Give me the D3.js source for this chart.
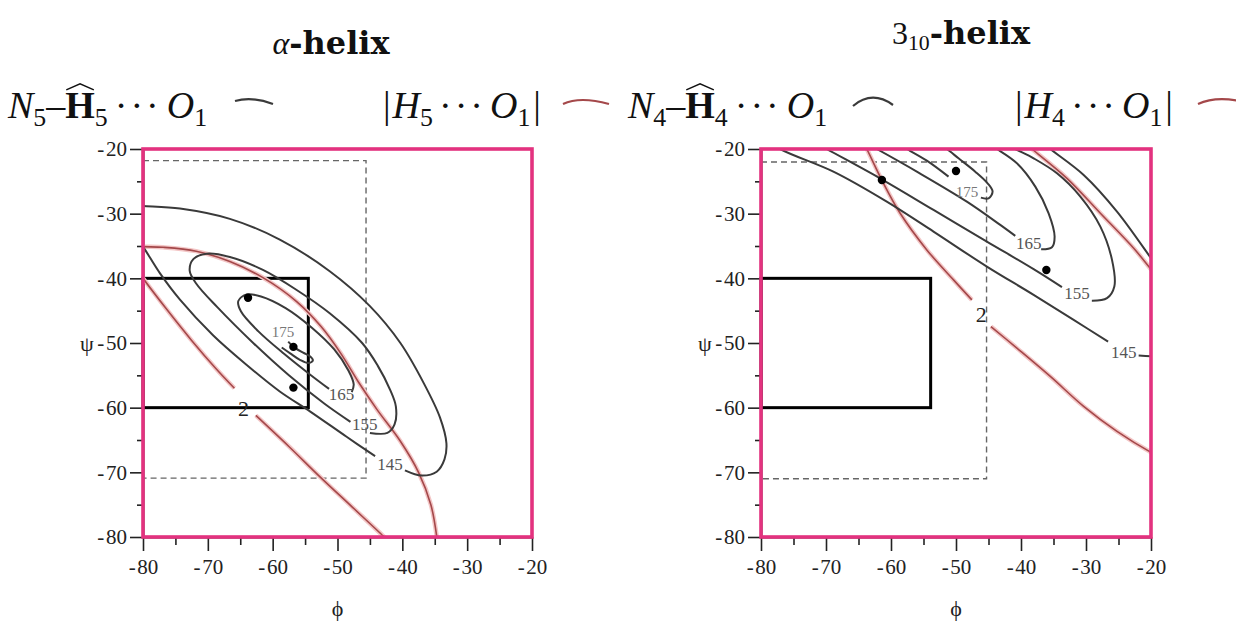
<!DOCTYPE html>
<html lang="en">
<head>
<meta charset="UTF-8" />
<title>alpha-helix / 3-10-helix H-bond contours</title>
<style>
  body { margin: 0; background: #fff; }
  svg { display: block; }
  .tick text { font-family: "Liberation Serif", "Times New Roman", serif; font-size: 21px; fill: #222; }
  .tick line { stroke: #222; stroke-width: 1.6px; }
  .axis path.domain { stroke: #111; stroke-width: 1.5px; }
</style>
</head>
<body>
<svg width="1236" height="625"></svg>
<script src="https://d3js.org/d3.v7.min.js"></script>
<script>
// ---- data (phi, psi) ----
const majorTicks = [-80, -70, -60, -50, -40, -30, -20];
const minorTicks = [-75, -65, -55, -45, -35, -25];

// alpha-helix panel
const alpha145a = [[-81,-28.7],[-80,-28.8],[-74.3,-29.2],[-66.6,-30.8],[-58.9,-34.0],[-51.2,-38.9],[-45.0,-44.3],[-40.3,-50.0],[-36.7,-56.2],[-34.2,-61.5],[-33.2,-65.5],[-33.5,-68.0],[-34.7,-69.9],[-37.0,-70.5],[-39.6,-69.7]];
const alpha145b = [[-44.2,-67.5],[-48.6,-64.5],[-54.2,-60.6],[-58.9,-57.5],[-64.0,-53.4],[-69.2,-48.8],[-74.3,-43.3],[-77.4,-39.2],[-80,-35.1],[-81,-33.8]];
const alpha155 = [[-45.0,-63.9],[-42.3,-63.9],[-41.2,-62.6],[-41.0,-59.8],[-41.9,-57.2],[-43.8,-53.5],[-46.2,-50.0],[-51.2,-45.4],[-56.3,-41.8],[-61.5,-38.7],[-66.6,-36.7],[-70.2,-36.2],[-72.2,-37.0],[-72.8,-38.8],[-71.8,-40.8],[-68.5,-44.5],[-63.0,-50.0],[-57.5,-55.0],[-52.0,-59.4],[-48.0,-62.2]];
const alpha165 = [[-47.8,-57.6],[-47.5,-56.4],[-48.3,-54.3],[-50.5,-51.0],[-54.0,-47.6],[-58.0,-44.6],[-61.8,-42.8],[-64.0,-42.5],[-65.3,-43.5],[-64.9,-45.1],[-62.2,-48.2],[-58.2,-51.7],[-54.2,-54.9],[-51.3,-57.1]];
const alpha175 = [[-57.6,-49.8],[-56.8,-50.6],[-55.3,-51.5],[-54.2,-52.1],[-53.8,-52.7],[-54.5,-53.1],[-55.8,-52.6],[-57.3,-51.6],[-58.6,-50.7]];
const alphaRedUpper = [[-81,-35.0],[-80,-35.1],[-76.9,-35.2],[-71.8,-35.8],[-66.6,-37.4],[-61.5,-39.9],[-56.3,-43.6],[-52.5,-47.5],[-49.5,-51.6],[-46.8,-56.0],[-43.9,-60.3],[-40.3,-65.2],[-37.5,-70.0],[-35.6,-75.0],[-34.7,-79.9],[-34.6,-81]];
const alphaRedLowerA = [[-81,-38.6],[-80,-40.0],[-76.5,-44.6],[-72.5,-49.6],[-68.8,-53.9],[-65.9,-57.0]];
const alphaRedLowerB = [[-62.6,-61.2],[-57.5,-66.0],[-52.7,-70.7],[-47.8,-75.3],[-42.9,-79.9],[-41.8,-81]];
const alphaDots = [[-63.8,-43.0],[-56.8,-50.6],[-56.8,-56.9]];
const alphaLabels = [[-58.4,-48.3,"175"],[-49.4,-58.0,"165"],[-45.8,-62.6,"155"],[-41.9,-68.8,"145"]];
const alphaRedLabel = [-64.5,-60.2,"2"];
const alphaDashBox = [-80,-45.6,-21.8,-70.9];
const alphaSolidBox = [-80,-54.5,-40,-60];

// 3_10-helix panel
const h145a = [[-81,-17.5],[-77.07,-20],[-68.86,-23.5],[-60.65,-28.14],[-53.46,-32.77],[-45.25,-38.18],[-38.06,-42.55],[-31.9,-46.42],[-26.6,-49.8]];
const h145b = [[-21.9,-51.95],[-20,-52.05],[-19,-52.1]];
const h145c = [[-36.5,-19.1],[-35.49,-20],[-30.36,-24.02],[-25.23,-29.68],[-20,-36.89],[-19,-38.3]];
const h155a = [[-72,-18.8],[-69.9,-20],[-61.42,-24.69],[-53.46,-29.42],[-45.25,-34.32],[-38.06,-38.59],[-33.7,-41.37]];
const h155b = [[-29.1,-43.45],[-26.77,-43.07],[-25.64,-41.27],[-26.0,-37.15],[-27.79,-32.0],[-30.87,-27.36],[-34.47,-23.76],[-38.06,-21.44],[-40.88,-20],[-41.9,-19.4]];
const h165a = [[-64.75,-18.6],[-62.19,-20],[-56.03,-23.5],[-48.33,-28.14],[-43.19,-31.74],[-40.88,-33.44]];
const h165b = [[-36.9,-35.5],[-35.24,-35.19],[-34.83,-33.54],[-35.75,-29.94],[-37.8,-25.82],[-40.63,-22.21],[-43.71,-20],[-44.7,-19.4]];
const h175a = [[-59.6,-18.9],[-57.57,-20],[-54.49,-21.8],[-51.15,-24.27]];
const h175b = [[-46.17,-27.52],[-44.99,-27.62],[-44.37,-26.59],[-45.14,-25.3],[-47.04,-23.5],[-49.61,-21.44],[-51.41,-20],[-52.4,-19.4]];
const hRedLowerA = [[-64.24,-19.1],[-63.73,-20],[-61.42,-24.79],[-58.59,-29.94],[-54.49,-35.6],[-50.38,-40.24],[-47.56,-43.33]];
const hRedLowerB = [[-44.63,-47.45],[-40.63,-50.79],[-35.49,-55.17],[-30.36,-59.8],[-25.23,-63.67],[-20,-66.91],[-19,-67.4]];
const hRedUpper = [[-39.3,-19.2],[-38.32,-20],[-32.93,-24.53],[-27.79,-29.94],[-22.66,-35.35],[-20,-38.6],[-19,-39.8]];
const hDots = [[-61.4,-24.8],[-50.0,-23.4],[-36.1,-38.7]];
const hLabels = [[-48.3,-26.6,"175"],[-38.8,-34.6,"165"],[-31.4,-42.4,"155"],[-24.2,-51.5,"145"]];
const hRedLabel = [-46.1,-45.6,"2"];
const hDashBox = [-80,-45.3,-22,-71];
const hSolidBox = [-80,-53.9,-40,-60];

const panels = [
  { id: "alpha", left: 143, top: 149, w: 389, h: 388,
    black: [alpha145a, alpha145b, alpha155, alpha165, alpha175],
    red: [alphaRedUpper, alphaRedLowerA, alphaRedLowerB],
    dots: alphaDots, labels: alphaLabels, redLabel: alphaRedLabel,
    dash: alphaDashBox, solid: alphaSolidBox },
  { id: "h310", left: 761, top: 149, w: 390, h: 388,
    black: [h145a, h145b, h145c, h155a, h155b, h165a, h165b, h175a, h175b],
    red: [hRedLowerA, hRedLowerB, hRedUpper],
    dots: hDots, labels: hLabels, redLabel: hRedLabel,
    dash: hDashBox, solid: hSolidBox }
];

const svg = d3.select("svg");
const PINK = "#e3327f";
const SERIF = "'Liberation Serif', 'Times New Roman', serif";

function drawPanel(p) {
  const g = svg.append("g").attr("transform", `translate(${p.left},${p.top})`);
  const x = d3.scaleLinear().domain([-80, -20]).range([0, p.w]);
  const y = d3.scaleLinear().domain([-80, -20]).range([p.h, 0]);
  const fmt = d => "-\u200A" + Math.abs(d);

  g.append("clipPath").attr("id", "clip-" + p.id)
    .append("rect").attr("width", p.w).attr("height", p.h);

  // axes: majors with labels, minors shorter
  g.append("g").attr("class", "axis").attr("transform", `translate(0,${p.h})`)
    .call(d3.axisBottom(x).tickValues(minorTicks).tickSize(8).tickSizeOuter(0).tickFormat(""));
  g.append("g").attr("class", "axis").attr("transform", `translate(0,${p.h})`)
    .call(d3.axisBottom(x).tickValues(majorTicks).tickSize(14).tickSizeOuter(0).tickPadding(8).tickFormat(fmt));
  g.append("g").attr("class", "axis")
    .call(d3.axisLeft(y).tickValues(minorTicks).tickSize(6).tickSizeOuter(0).tickFormat(""));
  g.append("g").attr("class", "axis")
    .call(d3.axisLeft(y).tickValues(majorTicks).tickSize(13).tickSizeOuter(0).tickPadding(3).tickFormat(fmt));

  // reference boxes
  g.append("rect")
    .attr("x", x(p.dash[0])).attr("y", y(p.dash[2]))
    .attr("width", x(p.dash[1]) - x(p.dash[0])).attr("height", y(p.dash[3]) - y(p.dash[2]))
    .attr("fill", "none").attr("stroke", "#666").attr("stroke-width", 1.4).attr("stroke-dasharray", "6,4");
  g.append("rect")
    .attr("x", x(p.solid[0])).attr("y", y(p.solid[2]))
    .attr("width", x(p.solid[1]) - x(p.solid[0])).attr("height", y(p.solid[3]) - y(p.solid[2]))
    .attr("fill", "none").attr("stroke", "#000").attr("stroke-width", 3);

  const line = d3.line().x(d => x(d[0])).y(d => y(d[1])).curve(d3.curveCatmullRom.alpha(0.5));
  const cg = g.append("g").attr("clip-path", `url(#clip-${p.id})`).attr("fill", "none");

  cg.selectAll("path.halo").data(p.red).join("path").attr("class", "halo")
    .attr("d", line).attr("stroke", "#f3c6c6").attr("stroke-width", 4.5);
  cg.selectAll("path.red").data(p.red).join("path").attr("class", "red")
    .attr("d", line).attr("stroke", "#a4484a").attr("stroke-width", 1.6);
  cg.selectAll("path.blk").data(p.black).join("path").attr("class", "blk")
    .attr("d", line).attr("stroke", "#3a3a3a").attr("stroke-width", 2);

  g.selectAll("circle.dot").data(p.dots).join("circle").attr("class", "dot")
    .attr("cx", d => x(d[0])).attr("cy", d => y(d[1])).attr("r", 4.2).attr("fill", "#000");

  g.selectAll("text.lvl").data(p.labels).join("text").attr("class", "lvl")
    .attr("x", d => x(d[0])).attr("y", d => y(d[1]))
    .attr("text-anchor", "middle").attr("dominant-baseline", "central")
    .attr("font-family", SERIF).attr("font-size", d => d[2] === "175" ? 15 : 17)
    .attr("fill", d => d[2] === "175" ? "#777" : "#555")
    .text(d => d[2]);
  g.append("text")
    .attr("x", x(p.redLabel[0])).attr("y", y(p.redLabel[1]))
    .attr("text-anchor", "middle").attr("dominant-baseline", "central")
    .attr("font-family", SERIF).attr("font-size", 22).attr("fill", "#222")
    .text(p.redLabel[2]);

  // pink frame
  g.append("rect").attr("width", p.w).attr("height", p.h)
    .attr("fill", "none").attr("stroke", PINK).attr("stroke-width", 3.6);

  // axis titles
  g.append("text").attr("x", p.w / 2).attr("y", 467).attr("text-anchor", "middle")
    .attr("font-family", SERIF).attr("font-size", 22).attr("fill", "#222").text("\u03D5");
  g.append("text").attr("x", -56).attr("y", p.h / 2 + 8).attr("text-anchor", "middle")
    .attr("font-family", SERIF).attr("font-size", 22).attr("fill", "#222").text("\u03C8");
}

panels.forEach(drawPanel);

// ---- math-style titles and legend ----
function mathText(x, y, size, runs, anchor) {
  const g = svg.append("g");
  let cx = 0;
  runs.forEach(r => {
    cx += r.pre || 0;
    const t = g.append("text")
      .attr("x", cx).attr("y", r.sub ? size * 0.2 : 0)
      .attr("font-family", r.font || SERIF)
      .attr("font-size", r.sub ? size * 0.68 : size)
      .attr("font-style", r.it ? "italic" : null)
      .attr("font-weight", r.bf ? "bold" : null)
      .attr("letter-spacing", r.ls || null)
      .attr("fill", "#111")
      .text(r.t);
    const w = t.node().getComputedTextLength();
    if (r.hat) {
      g.append("path")
        .attr("d", `M${cx + 1},${-size * 0.74} L${cx + w / 2},${-size * 0.9} L${cx + w - 1},${-size * 0.74}`)
        .attr("fill", "none").attr("stroke", "#111").attr("stroke-width", 1.5);
    }
    cx += w + (r.post || 0);
  });
  const x0 = anchor === "middle" ? x - cx / 2 : x;
  g.attr("transform", `translate(${x0},${y})`);
  return cx;
}

mathText(331, 54, 32, [{ t: "\u03B1", it: 1 }, { t: "-helix", bf: 1, font: "DejaVu Serif" }], "middle");
mathText(961, 44, 32, [{ t: "3" }, { t: "10", sub: 1 }, { t: "-helix", bf: 1, font: "DejaVu Serif" }], "middle");

const legendSize = 38;
function nhoRuns(k) {
  return [{ t: "N", it: 1 }, { t: k, sub: 1 }, { t: "\u2013" }, { t: "H", bf: 1, hat: 1 }, { t: k, sub: 1, post: 7 },
          { t: "\u00B7\u00B7\u00B7", ls: 3, post: 5 }, { t: "O", it: 1 }, { t: "1", sub: 1 }];
}
function hoRuns(k) {
  return [{ t: "|" }, { t: "H", it: 1, pre: 2 }, { t: k, sub: 1, post: 6 }, { t: "\u00B7\u00B7\u00B7", ls: 3, post: 4 },
          { t: "O", it: 1 }, { t: "1", sub: 1 }, { t: "|", pre: 3 }];
}
mathText(8, 118, legendSize, nhoRuns("5"));
mathText(383, 118, legendSize, hoRuns("5"));
mathText(628, 118, legendSize, nhoRuns("4"));
mathText(1015, 118, legendSize, hoRuns("4"));

// legend keys
const keys = [
  { d: "M235,101 Q252,96 273,104", c: "#3a3a3a" },
  { d: "M563,104 Q580,96 609,104", c: "#a4484a" },
  { d: "M853,106 Q872,90 893,105", c: "#3a3a3a" },
  { d: "M1198,104 Q1215,96 1240,101", c: "#a4484a" }
];
svg.selectAll("path.key").data(keys).join("path").attr("class", "key")
  .attr("d", d => d.d).attr("fill", "none").attr("stroke", d => d.c).attr("stroke-width", 2.2);
</script>
</body>
</html>
